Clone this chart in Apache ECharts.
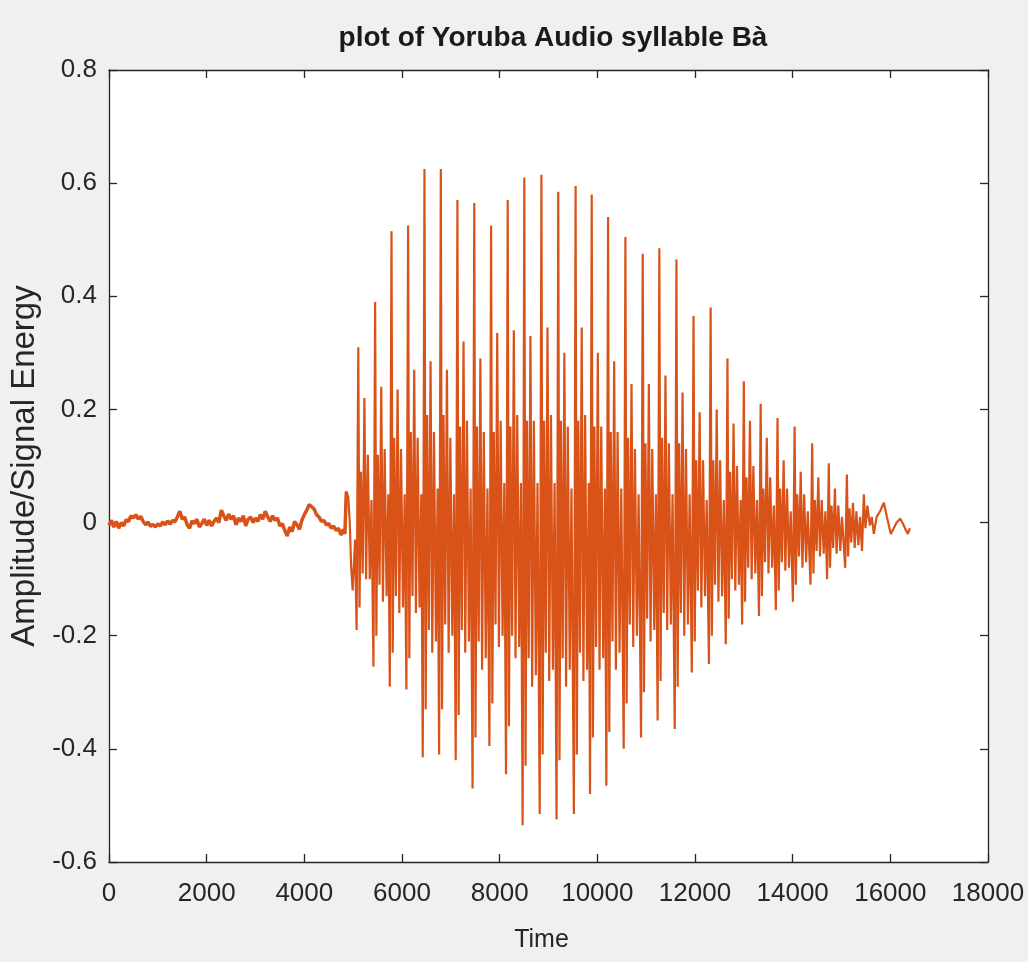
<!DOCTYPE html>
<html>
<head>
<meta charset="utf-8">
<title>plot of Yoruba Audio syllable Bà</title>
<script src="https://cdn.jsdelivr.net/npm/echarts@6/dist/echarts.min.js"></script>
<style>
  html, body { margin: 0; padding: 0; background: #f0f0f0; }
  #chart { width: 1028px; height: 962px; }
</style>
</head>
<body>
<div id="chart"></div>
<script>
// axis ranges and tick steps
const timeRange = [0, 18000];
const timeStep = 2000;
const ampRange = [-0.6, 0.8];
const ampStep = 0.2;

// low-level noise before the voicing starts [time, amplitude]
const quietWave = [
  [0,-0.005],[50,0.004],[100,-0.008],[150,0.002],[200,-0.010],[250,0.000],[300,-0.006],[350,0.005],
  [400,0.002],[450,0.012],[500,0.008],[550,0.014],[600,0.006],[650,0.011],[700,0.002],[750,-0.004],
  [800,0.001],[850,-0.007],[900,-0.003],[950,-0.008],[1000,-0.002],[1050,-0.006],[1100,0.001],[1150,-0.004],
  [1200,0.003],[1250,-0.003],[1300,0.004],[1350,0.001],[1400,0.010],[1450,0.020],[1500,0.006],[1550,0.010],
  [1600,-0.004],[1650,-0.010],[1700,0.003],[1750,-0.002],[1800,0.006],[1850,-0.008],[1900,-0.002],[1950,0.006],
  [2000,-0.005],[2050,0.004],[2100,-0.006],[2150,0.002],[2200,0.008],[2250,0.000],[2300,0.022],[2350,0.012],
  [2400,0.004],[2450,0.015],[2500,0.006],[2550,0.012],[2600,-0.004],[2650,0.008],[2700,0.002],[2750,0.012],
  [2800,-0.006],[2850,0.006],[2900,0.010],[2950,0.000],[3000,0.008],[3050,0.002],[3100,0.014],[3150,0.006],
  [3200,0.020],[3250,0.010],[3300,0.002],[3350,0.012],[3400,0.004],[3450,0.008],[3500,-0.006],[3550,-0.002],
  [3600,-0.014],[3650,-0.024],[3700,-0.008],[3750,-0.016],[3800,0.002],[3850,-0.004],[3900,-0.012],[3950,0.004],
  [4000,0.014],[4050,0.022],[4100,0.032],[4150,0.028],[4200,0.024],[4250,0.014],[4300,0.010],[4350,0.002],
  [4400,0.004],[4450,-0.004],[4500,-0.002],[4550,-0.010],[4600,-0.006],[4650,-0.014],[4700,-0.010],[4750,-0.022],
  [4800,-0.012],[4830,-0.020]
];

// onset of the syllable
const onsetWave = [
  [4860,0.055],[4900,0.045],[4930,0.0],[4960,-0.08],[4990,-0.12],[5040,-0.03]
];

// glottal pulses, first third
const voicedWave1 = [
  [5070,-0.19],[5105,0.31],[5130,-0.15],[5160,0.09],[5195,-0.09],[5230,0.22],[5265,-0.10],[5300,0.12],[5340,-0.10],[5375,0.04],
  [5415,-0.255],[5450,0.39],[5475,-0.20],[5505,0.12],[5540,-0.11],[5575,0.24],[5610,-0.14],[5645,0.13],[5685,-0.13],[5720,0.05],
  [5750,-0.29],[5785,0.515],[5810,-0.23],[5840,0.15],[5875,-0.13],[5910,0.235],[5945,-0.16],[5980,0.13],[6020,-0.15],[6055,0.05],
  [6090,-0.295],[6125,0.525],[6150,-0.24],[6180,0.16],[6215,-0.13],[6250,0.27],[6285,-0.16],[6320,0.15],[6360,-0.15],[6395,0.05],
  [6425,-0.415],[6460,0.625],[6485,-0.33],[6515,0.19],[6550,-0.19],[6585,0.285],[6620,-0.23],[6655,0.16],[6695,-0.21],[6730,0.06],
  [6760,-0.41],[6795,0.625],[6820,-0.33],[6850,0.19],[6885,-0.18],[6920,0.27],[6955,-0.23],[6990,0.15],[7030,-0.20],[7065,0.05],
  [7100,-0.42],[7135,0.57],[7160,-0.34],[7190,0.17],[7225,-0.19],[7260,0.32],[7295,-0.23],[7330,0.18],[7370,-0.21],[7405,0.06],
  [7445,-0.47],[7480,0.565],[7505,-0.38],[7535,0.17],[7570,-0.21],[7605,0.29],[7640,-0.26],[7675,0.16],[7715,-0.24],[7750,0.06],
  [7790,-0.395],[7825,0.525],[7850,-0.32],[7880,0.16],[7915,-0.18],[7950,0.335],[7985,-0.22],[8020,0.18],[8060,-0.20],[8095,0.07],
  [8130,-0.445],[8165,0.57],[8190,-0.36],[8220,0.17],[8255,-0.20],[8290,0.34],[8325,-0.24],[8360,0.19],[8400,-0.22],[8435,0.07]
];

// glottal pulses, loudest part
const voicedWave2 = [
  [8470,-0.535],[8505,0.61],[8530,-0.43],[8560,0.18],[8595,-0.24],[8630,0.33],[8665,-0.29],[8700,0.18],[8740,-0.27],[8775,0.07],
  [8820,-0.515],[8855,0.615],[8880,-0.41],[8910,0.18],[8945,-0.23],[8980,0.345],[9015,-0.28],[9050,0.19],[9090,-0.26],[9125,0.07],
  [9165,-0.525],[9200,0.585],[9225,-0.42],[9255,0.18],[9290,-0.24],[9325,0.30],[9360,-0.29],[9395,0.17],[9435,-0.26],[9470,0.06],
  [9520,-0.515],[9555,0.595],[9580,-0.41],[9610,0.18],[9645,-0.23],[9680,0.345],[9715,-0.28],[9750,0.19],[9790,-0.26],[9825,0.07],
  [9850,-0.48],[9885,0.58],[9910,-0.38],[9940,0.17],[9975,-0.22],[10010,0.30],[10045,-0.26],[10080,0.17],[10120,-0.24],[10155,0.06],
  [10185,-0.465],[10220,0.54],[10245,-0.37],[10275,0.16],[10310,-0.21],[10345,0.285],[10380,-0.26],[10415,0.16],[10455,-0.23],[10490,0.06],
  [10540,-0.40],[10575,0.505],[10600,-0.32],[10630,0.15],[10665,-0.18],[10700,0.245],[10735,-0.22],[10770,0.13],[10810,-0.20],[10845,0.05],
  [10895,-0.38],[10930,0.475],[10955,-0.30],[10985,0.14],[11020,-0.17],[11055,0.245],[11090,-0.21],[11125,0.13],[11165,-0.19],[11200,0.05],
  [11235,-0.35],[11270,0.485],[11295,-0.28],[11325,0.15],[11360,-0.16],[11395,0.26],[11430,-0.19],[11465,0.14],[11505,-0.18],[11540,0.05],
  [11585,-0.365],[11620,0.465],[11645,-0.29],[11675,0.14],[11710,-0.16],[11745,0.23],[11780,-0.20],[11815,0.13],[11855,-0.18],[11890,0.05]
];

// glottal pulses, decay
const voicedWave3 = [
  [11935,-0.265],[11970,0.365],[11995,-0.21],[12025,0.11],[12060,-0.12],[12095,0.195],[12130,-0.15],[12165,0.11],[12205,-0.13],[12240,0.04],
  [12285,-0.25],[12320,0.38],[12345,-0.20],[12375,0.11],[12410,-0.11],[12445,0.20],[12480,-0.14],[12515,0.11],[12555,-0.13],[12590,0.04],
  [12630,-0.215],[12665,0.29],[12690,-0.17],[12720,0.09],[12755,-0.10],[12790,0.175],[12825,-0.12],[12860,0.10],[12900,-0.11],[12935,0.04],
  [12965,-0.18],[13000,0.25],[13025,-0.14],[13055,0.08],[13090,-0.08],[13125,0.18],[13160,-0.10],[13195,0.10],[13235,-0.09],[13270,0.04],
  [13310,-0.165],[13345,0.21],[13370,-0.13],[13400,0.06],[13435,-0.07],[13470,0.15],[13505,-0.09],[13540,0.08],[13580,-0.08],[13615,0.03],
  [13655,-0.155],[13690,0.185],[13715,-0.12],[13745,0.06],[13780,-0.07],[13815,0.11],[13850,-0.085],[13885,0.06],[13925,-0.08],[13960,0.02],
  [14005,-0.14],[14040,0.17],[14065,-0.11],[14095,0.05],[14130,-0.06],[14165,0.09],[14200,-0.08],[14235,0.05],[14275,-0.07],[14310,0.02],
  [14365,-0.11],[14400,0.14],[14425,-0.09],[14455,0.04],[14490,-0.05],[14525,0.08],[14560,-0.06],[14595,0.04],[14635,-0.055],[14670,0.02],
  [14705,-0.10],[14740,0.105],[14765,-0.08],[14795,0.03],[14830,-0.045],[14865,0.06],[14900,-0.055],[14935,0.03],[14975,-0.05],[15010,0.01],
  [15075,-0.08],[15110,0.085],[15135,-0.06],[15165,0.025],[15200,-0.035],[15235,0.035],[15270,-0.045],[15305,0.02],[15345,-0.04],[15380,0.01]
];

// last small wiggles
const tailWave = [
  [15420,-0.05],[15457,0.05],[15490,-0.01],[15530,0.03],[15580,-0.005],[15620,0.01],[15662,-0.02],[15720,0.01],
  [15790,0.02],[15867,0.035],[15930,0.01],[16010,-0.02],[16070,-0.01],[16130,0.0],[16200,0.007],[16260,-0.002],
  [16310,-0.012],[16360,-0.02],[16400,-0.01]
];

const quietPart = [].concat(quietWave, onsetWave.slice(0, 1));
const voicedPart = [].concat(quietWave.slice(-1), onsetWave, voicedWave1, voicedWave2, voicedWave3, tailWave);

const axisColor = '#262626';
const lineColor = '#d95319';
const fontFamily = 'Liberation Sans, Arial, sans-serif';

const myChart = echarts.init(document.getElementById('chart'));

// common box axis (MATLAB style, ticks pointing inward)
function boxAxis(extra) {
  return Object.assign({
    type: 'value',
    axisLine: { show: true, onZero: false, lineStyle: { color: axisColor, width: 1.3 } },
    axisTick: { show: true, inside: true, length: 8, lineStyle: { color: axisColor, width: 1.3 } },
    splitLine: { show: false },
    axisLabel: { show: false }
  }, extra);
}

const option = {
  backgroundColor: '#f0f0f0',
  animation: false,
  title: {
    text: 'plot of Yoruba Audio syllable Bà',
    left: 548,
    top: 19,
    textAlign: 'center',
    textStyle: { fontFamily: fontFamily, fontSize: 28, fontWeight: 'bold', color: '#1a1a1a' }
  },
  grid: {
    left: 109, right: 40, top: 70, bottom: 100,
    outerBoundsMode: 'none',
    show: true, backgroundColor: '#ffffff', borderWidth: 0
  },
  xAxis: [
    boxAxis({
      position: 'bottom',
      min: timeRange[0], max: timeRange[1], interval: timeStep,
      name: 'Time', nameLocation: 'middle', nameGap: 66,
      nameTextStyle: { fontFamily: fontFamily, fontSize: 25, color: axisColor, padding: [0, 14, 0, 0] },
      axisLabel: {
        show: true, margin: 19, color: axisColor, fontFamily: fontFamily, fontSize: 26,
        formatter: function (v) { return String(v); }
      }
    }),
    boxAxis({ position: 'top', min: timeRange[0], max: timeRange[1], interval: timeStep })
  ],
  yAxis: [
    boxAxis({
      position: 'left',
      min: ampRange[0], max: ampRange[1], interval: ampStep,
      name: 'Amplitude/Signal Energy', nameLocation: 'middle', nameGap: 62,
      nameTextStyle: { fontFamily: fontFamily, fontSize: 33, color: axisColor },
      axisLabel: {
        show: true, margin: 12, color: axisColor, fontFamily: fontFamily, fontSize: 26,
        formatter: function (v) { return String(Math.round(v * 10) / 10); }
      }
    }),
    boxAxis({ position: 'right', min: ampRange[0], max: ampRange[1], interval: ampStep })
  ],
  series: [
    {
      type: 'line',
      data: quietPart,
      showSymbol: false,
      sampling: false,
      lineStyle: { color: lineColor, width: 3.5 },
      itemStyle: { color: lineColor }
    },
    {
      type: 'line',
      data: voicedPart,
      showSymbol: false,
      sampling: false,
      lineStyle: { color: lineColor, width: 2.2 },
      itemStyle: { color: lineColor }
    }
  ]
};

myChart.setOption(option);
</script>
</body>
</html>
